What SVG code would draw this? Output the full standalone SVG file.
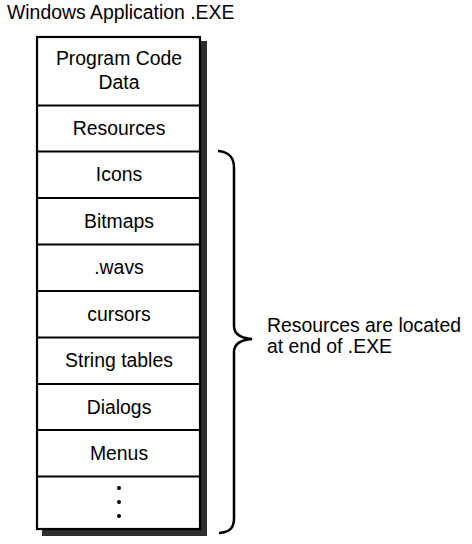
<svg xmlns="http://www.w3.org/2000/svg" width="472" height="544" viewBox="0 0 472 544">
<style>
text{font-family:"Liberation Sans",Arial,sans-serif;font-size:19.4px;fill:#000}
.c{text-anchor:middle}
.div{stroke:#000;stroke-width:2.2}
</style>
<rect width="472" height="544" fill="#fff"/>
<text x="7" y="19">Windows Application .EXE</text>
<g id="exe">
<rect x="42" y="41" width="165" height="495" fill="#2e2e2e"/>
<rect x="37" y="37" width="163" height="492" fill="#fff" stroke="#000" stroke-width="2.2"/>
</g>
<g id="n-program"><text class="c" x="119" y="65">Program Code</text><text class="c" x="119" y="89">Data</text></g>
<g id="n-resources"><line class="div" x1="37" y1="105.5" x2="200" y2="105.5"/><text class="c" x="119" y="134.5">Resources</text></g>
<g id="n-icons"><line class="div" x1="37" y1="151.5" x2="200" y2="151.5"/><text class="c" x="119" y="181">Icons</text></g>
<g id="n-bitmaps"><line class="div" x1="37" y1="198" x2="200" y2="198"/><text class="c" x="119" y="227.5">Bitmaps</text></g>
<g id="n-wavs"><line class="div" x1="37" y1="244.5" x2="200" y2="244.5"/><text class="c" x="119" y="274">.wavs</text></g>
<g id="n-cursors"><line class="div" x1="37" y1="291" x2="200" y2="291"/><text class="c" x="119" y="320.5">cursors</text></g>
<g id="n-strings"><line class="div" x1="37" y1="337.5" x2="200" y2="337.5"/><text class="c" x="119" y="367">String tables</text></g>
<g id="n-dialogs"><line class="div" x1="37" y1="384" x2="200" y2="384"/><text class="c" x="119" y="413.5">Dialogs</text></g>
<g id="n-menus"><line class="div" x1="37" y1="430" x2="200" y2="430"/><text class="c" x="119" y="460">Menus</text></g>
<g id="n-more"><line class="div" x1="37" y1="476.5" x2="200" y2="476.5"/>
<circle cx="119" cy="488" r="2"/><circle cx="119" cy="502" r="2"/><circle cx="119" cy="516" r="2"/></g>
<g id="connectors">
<path d="M218,151 C230,152 234,158 234,168 L234,326 C234,334 240,338 252,339 C240,340 234,344 234,352 L234,518 C234,528 230,532 219,533" fill="none" stroke="#000" stroke-width="2.5"/>
</g>
<g id="n-label"><text x="267" y="332">Resources are located</text><text x="267" y="353">at end of .EXE</text></g>
</svg>
